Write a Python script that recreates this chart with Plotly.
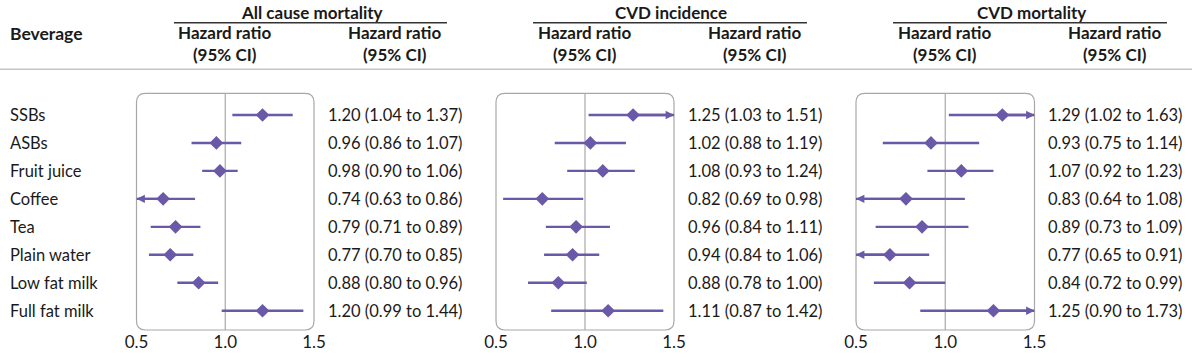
import plotly.graph_objects as go

# ---------------- data ----------------
beverages = ["SSBs", "ASBs", "Fruit juice", "Coffee", "Tea", "Plain water", "Low fat milk", "Full fat milk"]
outcomes = ["All cause mortality", "CVD incidence", "CVD mortality"]

# positions of the marks as drawn in the reference
hr_all = [1.21, 0.95, 0.97, 0.65, 0.72, 0.69, 0.85, 1.21]
lo_all = [1.04, 0.81, 0.87, 0.45, 0.58, 0.57, 0.73, 0.98]
hi_all = [1.38, 1.09, 1.07, 0.83, 0.86, 0.82, 0.96, 1.44]
txt_all = ["1.20 (1.04 to 1.37)", "0.96 (0.86 to 1.07)", "0.98 (0.90 to 1.06)", "0.74 (0.63 to 0.86)",
           "0.79 (0.71 to 0.89)", "0.77 (0.70 to 0.85)", "0.88 (0.80 to 0.96)", "1.20 (0.99 to 1.44)"]

hr_inc = [1.27, 1.03, 1.10, 0.76, 0.95, 0.93, 0.85, 1.13]
lo_inc = [1.02, 0.83, 0.90, 0.54, 0.78, 0.77, 0.68, 0.81]
hi_inc = [1.55, 1.23, 1.28, 0.99, 1.14, 1.08, 1.01, 1.44]
txt_inc = ["1.25 (1.03 to 1.51)", "1.02 (0.88 to 1.19)", "1.08 (0.93 to 1.24)", "0.82 (0.69 to 0.98)",
           "0.96 (0.84 to 1.11)", "0.94 (0.84 to 1.06)", "0.88 (0.78 to 1.00)", "1.11 (0.87 to 1.42)"]

hr_mort = [1.32, 0.92, 1.09, 0.78, 0.87, 0.69, 0.80, 1.27]
lo_mort = [1.02, 0.65, 0.90, 0.45, 0.61, 0.45, 0.60, 0.86]
hi_mort = [1.65, 1.19, 1.27, 1.11, 1.13, 0.91, 1.00, 1.75]
txt_mort = ["1.29 (1.02 to 1.63)", "0.93 (0.75 to 1.14)", "1.07 (0.92 to 1.23)", "0.83 (0.64 to 1.08)",
            "0.89 (0.73 to 1.09)", "0.77 (0.65 to 0.91)", "0.84 (0.72 to 0.99)", "1.25 (0.90 to 1.73)"]

x_ticks = [0.5, 1.0, 1.5]
x_tick_text = ["0.5", "1.0", "1.5"]
header_col = "Beverage"
sub_header = "Hazard ratio<br>(95% CI)"

# ---------------- layout helpers ----------------
W, H = 1192, 357
FONT = "Lato"
PURPLE = "#6a58a8"
TXT = "#1a1a1a"
GRID = "#a8a8a8"
XMIN, XMAX = x_ticks[0], x_ticks[-1]


def px(x):
    return x / W


def py(y):
    return 1 - y / H


BOX_TOP, BOX_BOT = 93.3, 330.0
panels = [
    dict(hr=hr_all, lo=lo_all, hi=hi_all, txt=txt_all, left=136.5, right=314.0, xtxt=326.5,
         title_x=311.7, ul=(174, 447), sub2=395),
    dict(hr=hr_inc, lo=lo_inc, hi=hi_inc, txt=txt_inc, left=496.0, right=674.0, xtxt=686.0,
         title_x=671.3, ul=(533, 807), sub2=755),
    dict(hr=hr_mort, lo=lo_mort, hi=hi_mort, txt=txt_mort, left=856.0, right=1034.5, xtxt=1046.0,
         title_x=1031.0, ul=(893, 1167), sub2=1115),
]

rows = list(range(1, len(beverages) + 1))

fig = go.Figure()
shapes = []
annotations = []

for k, p in enumerate(panels):
    xa = "x" if k == 0 else f"x{k+1}"
    xname = "xaxis" if k == 0 else f"xaxis{k+1}"
    # CI lines (clipped to the axis range)
    xs, ys = [], []
    for r, lo, hi in zip(rows, p["lo"], p["hi"]):
        xs += [max(lo, XMIN), min(hi, XMAX), None]
        ys += [r, r, None]
    fig.add_trace(go.Scatter(x=xs, y=ys, xaxis=xa, yaxis="y", mode="lines",
                             line=dict(color=PURPLE, width=2.4), hoverinfo="skip", showlegend=False))
    # arrowheads for clipped intervals
    for r, h, lo, hi in zip(rows, p["hr"], p["lo"], p["hi"]):
        for cond, edge in ((lo < XMIN, XMIN), (hi > XMAX, XMAX)):
            if cond:
                annotations.append(dict(x=edge, y=r, ax=h, ay=r, xref=xa, yref="y", axref=xa, ayref="y",
                                        text="", showarrow=True, arrowhead=2, arrowsize=0.7, arrowwidth=2.4,
                                        arrowcolor=PURPLE, standoff=0))
    # point estimates
    fig.add_trace(go.Scatter(x=p["hr"], y=rows, xaxis=xa, yaxis="y", mode="markers",
                             marker=dict(symbol="diamond", size=10.5, color=PURPLE, line=dict(width=0)),
                             hoverinfo="skip", showlegend=False))
    fig.layout[xname] = dict(domain=[px(p["left"]), px(p["right"])], range=[XMIN, XMAX], anchor="y",
                             tickvals=x_ticks, ticktext=x_tick_text, showgrid=False, zeroline=False,
                             showline=False, ticks="", automargin=False,
                             tickfont=dict(family=FONT, size=17, color=TXT), fixedrange=True)
    # rounded box
    L, R, T, B, rad = p["left"], p["right"], BOX_TOP, BOX_BOT, 9
    pts = (f"M {px(L+rad)},{py(T)} L {px(R-rad)},{py(T)} Q {px(R)},{py(T)} {px(R)},{py(T+rad)} "
           f"L {px(R)},{py(B-rad)} Q {px(R)},{py(B)} {px(R-rad)},{py(B)} "
           f"L {px(L+rad)},{py(B)} Q {px(L)},{py(B)} {px(L)},{py(B-rad)} "
           f"L {px(L)},{py(T+rad)} Q {px(L)},{py(T)} {px(L+rad)},{py(T)} Z")
    shapes.append(dict(type="path", path=pts, xref="paper", yref="paper",
                       line=dict(color=GRID, width=1.2), layer="below"))
    # reference line at 1.0
    shapes.append(dict(type="line", xref=xa, x0=1.0, x1=1.0, yref="paper", y0=py(B), y1=py(T),
                       line=dict(color=GRID, width=1.2), layer="below"))
    # value labels
    for r, t in zip(rows, p["txt"]):
        annotations.append(dict(x=px(p["xtxt"]), y=r, xref="paper", yref="y", text=t, showarrow=False,
                                xanchor="left", yanchor="middle",
                                font=dict(family=FONT, size=16.5, color=TXT)))
    # headers
    annotations.append(dict(x=px(p["title_x"]), y=py(13), xref="paper", yref="paper", text=f"<b>{outcomes[k]}</b>",
                            showarrow=False, xanchor="center", yanchor="middle",
                            font=dict(family=FONT, size=17, color=TXT)))
    shapes.append(dict(type="line", xref="paper", yref="paper", x0=px(p["ul"][0]), x1=px(p["ul"][1]),
                       y0=py(22.7), y1=py(22.7), line=dict(color="#333333", width=1.5)))
    xc1 = px(L + (1.0 - XMIN) / (XMAX - XMIN) * (R - L))
    for xc in (xc1, px(p["sub2"])):
        annotations.append(dict(x=xc, y=py(43), xref="paper", yref="paper", text=f"<b>{sub_header}</b>",
                                showarrow=False, xanchor="center", yanchor="middle", align="center",
                                font=dict(family=FONT, size=17, color=TXT)))

# beverage labels
for r, b in zip(rows, beverages):
    annotations.append(dict(x=px(8), y=r, xref="paper", yref="y", text=b, showarrow=False,
                            xanchor="left", yanchor="middle", font=dict(family=FONT, size=16.5, color=TXT)))
annotations.append(dict(x=px(8), y=py(33), xref="paper", yref="paper", text=f"<b>{header_col}</b>",
                        showarrow=False, xanchor="left", yanchor="middle",
                        font=dict(family=FONT, size=17.5, color=TXT)))
# header separator
shapes.append(dict(type="line", xref="paper", yref="paper", x0=0, x1=1, y0=py(69.3), y1=py(69.3),
                   line=dict(color="#c4c4c4", width=1.5)))

fig.update_layout(
    width=W, height=H, margin=dict(l=0, r=0, t=0, b=0, pad=0), autosize=False,
    paper_bgcolor="white", plot_bgcolor="rgba(0,0,0,0)",
    yaxis=dict(domain=[py(BOX_BOT), py(BOX_TOP)], range=[8.69, 0.224], visible=False,
               fixedrange=True, automargin=False),
    shapes=shapes, annotations=annotations, showlegend=False,
    font=dict(family=FONT, color=TXT),
)

fig.write_html("out.html", config={"displayModeBar": False},
               post_script="document.body.style.margin='0';document.body.style.overflow='hidden';")
